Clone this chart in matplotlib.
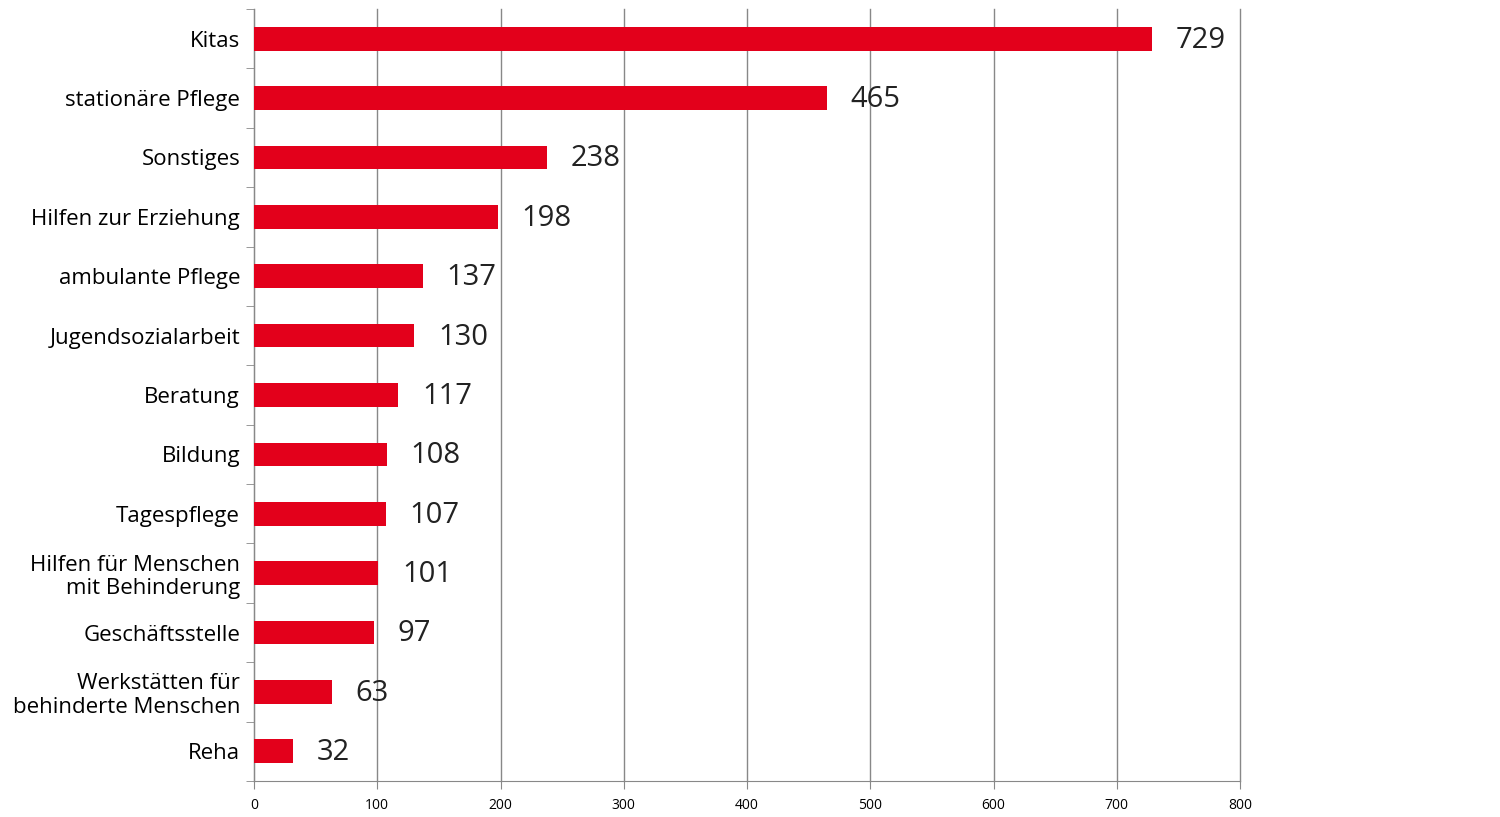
import matplotlib.pyplot as plt
import numpy as np

# Kategorien und Werte (von oben nach unten)
categories = ['Kitas', 'stationäre Pflege', 'Sonstiges', 'Hilfen zur Erziehung',
              'ambulante Pflege', 'Jugendsozialarbeit', 'Beratung', 'Bildung',
              'Tagespflege', 'Hilfen für Menschen\nmit Behinderung',
              'Geschäftsstelle', 'Werkstätten für\nbehinderte Menschen', 'Reha']
values = [729, 465, 238, 198, 137, 130, 117, 108, 107, 101, 97, 63, 32]
x_ticks = [0, 100, 200, 300, 400, 500, 600, 700, 800]

plt.rcParams['font.family'] = ['Open Sans', 'DejaVu Sans']

fig = plt.figure(figsize=(15, 8.17), dpi=100)
ax = fig.add_axes([254 / 1500, 36 / 817, 986 / 1500, 772 / 817])

y = np.arange(len(categories))
ax.barh(y, values, height=0.4, color='#E3001B', zorder=3)

# Werte neben den Balken
for yi, v in zip(y, values):
    ax.annotate(str(v), xy=(v, yi), xytext=(17, -1), textcoords='offset points',
                va='center', ha='left', fontsize=21, color='#222222')

ax.set_xlim(0, 800)
ax.set_ylim(len(categories) - 0.5, -0.5)
ax.set_xticks(x_ticks)
ax.set_xticklabels([str(t) for t in x_ticks], fontsize=10)

# Kategorie-Beschriftungen zwischen den Tickmarken
ax.set_yticks(y)
ax.set_yticklabels(categories, fontsize=16, linespacing=1.15)
ax.tick_params(axis='y', which='major', length=0, pad=10)
ax.set_yticks(np.arange(len(categories) + 1) - 0.5, minor=True)
ax.tick_params(axis='y', which='minor', length=6, color='#888888', direction='out')
ax.tick_params(axis='x', length=6, color='#888888', direction='out', pad=6)
for lbl in ax.get_yticklabels():
    lbl.set_horizontalalignment('right')
    lbl.set_multialignment('right')

ax.grid(axis='x', color='#888888', linewidth=1, zorder=0)
for line in ax.get_xgridlines():
    line.set_clip_on(False)
for side in ['top', 'right']:
    ax.spines[side].set_visible(False)
for side in ['left', 'bottom']:
    ax.spines[side].set_color('#888888')

fig.savefig('out.png', dpi=100)
